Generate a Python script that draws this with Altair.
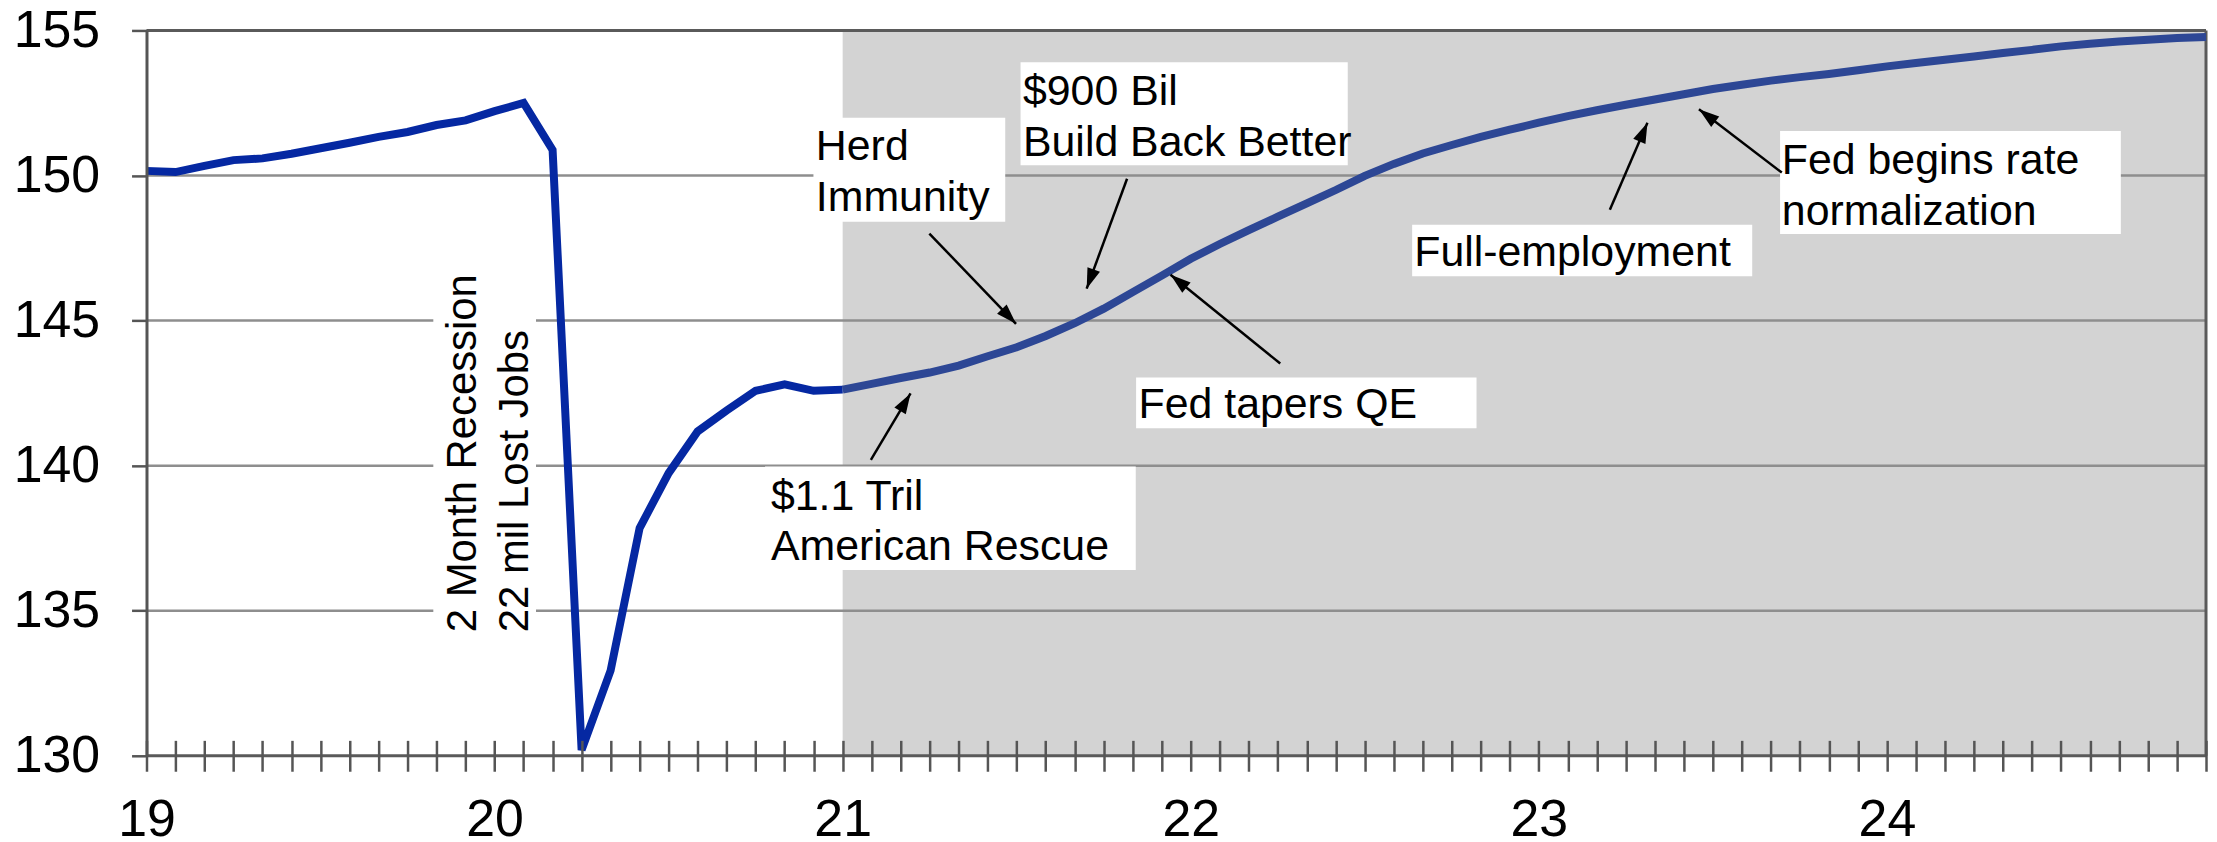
import math
import altair as alt
import pandas as pd

FONT = "Liberation Sans, Arial, sans-serif"

# ---------------- data ----------------
START_YEAR = 19
N_MONTHS = 72  # Jan 2019 .. Dec 2024

actual_vals = [150.16, 150.12, 150.33, 150.53, 150.59, 150.75, 150.94, 151.13, 151.33, 151.50, 151.74, 151.90,
               152.22, 152.50, 150.88, 130.20, 132.94, 137.85, 139.74, 141.18, 141.90, 142.58, 142.80, 142.58,
               142.62]
forecast_vals = [142.62, 142.82, 143.02, 143.21, 143.45, 143.77, 144.08, 144.47, 144.91, 145.41, 145.98, 146.55,
                 147.13, 147.64, 148.12, 148.58, 149.04, 149.50, 149.99, 150.40, 150.76, 151.05, 151.33, 151.58,
                 151.82, 152.05, 152.25, 152.44, 152.62, 152.80, 152.98, 153.13, 153.27, 153.39, 153.50, 153.63,
                 153.76, 153.88, 153.99, 154.10, 154.22, 154.33, 154.45, 154.54, 154.62, 154.68, 154.74, 154.77]

y_ticks = [130, 135, 140, 145, 150, 155]
forecast_start = 21

# annotation boxes (data units: year, index value)
box_x = [20.916, 21.511, 21.843, 20.777, 22.636, 23.693, 19.824]
box_x2 = [21.467, 22.451, 22.821, 21.842, 23.613, 24.672, 20.119]
box_y = [151.99, 153.90, 143.04, 139.97, 148.30, 151.53, 147.00]
box_y2 = [148.41, 150.35, 141.29, 136.40, 146.53, 147.98, 133.85]

# annotation texts
note_text = ["Herd\nImmunity", "$900 Bil\nBuild Back Better", "Fed tapers QE",
             "$1.1 Tril\nAmerican Rescue", "Full-employment", "Fed begins rate\nnormalization"]
note_x = [20.923, 21.518, 21.850, 20.794, 22.642, 23.698]
note_y = [151.70, 153.59, 142.81, 139.65, 148.04, 151.22]

rec_text = ["2 Month Recession\n22 mil Lost Jobs"]
rec_x = [19.853]
rec_y = [134.26]

# arrows: tail -> tip
arr_x = [21.081, 21.249, 21.817, 22.257, 23.204, 23.698]
arr_y = [140.20, 148.00, 149.89, 143.52, 148.82, 150.10]
arr_x2 = [21.195, 21.498, 21.701, 21.942, 23.312, 23.460]
arr_y2 = [142.49, 144.89, 146.10, 146.58, 151.82, 152.28]

# ---------------- layout ----------------
W, H = 2067, 728
x_min = START_YEAR
x_max = START_YEAR + (N_MONTHS - 1) / 12
PX_PER_YEAR = W / (x_max - x_min)
PX_PER_UNIT = H / (y_ticks[-1] - y_ticks[0])

month_vals = [START_YEAR + k / 12 for k in range(N_MONTHS)]

df_act = pd.DataFrame({"x": month_vals[:len(actual_vals)], "v": actual_vals})
df_fc = pd.DataFrame({"x": month_vals[len(actual_vals) - 1:], "v": forecast_vals})

xs = alt.Scale(domain=[x_min, x_max], nice=False, zero=False)
ys = alt.Scale(domain=[y_ticks[0], y_ticks[-1]], nice=False, zero=False)

x_axis = alt.Axis(values=month_vals,
                  labelExpr="datum.value == round(datum.value) ? format(datum.value, 'd') : ''",
                  tickSize=31, offset=-15.5, domain=False, grid=False,
                  tickColor="#555555", tickWidth=2.5,
                  labelFont=FONT, labelFontSize=52, labelColor="black", labelPadding=23,
                  labelFlush=False, labelOverlap=False, title=None, zindex=1)
y_axis = alt.Axis(values=y_ticks, tickSize=15, tickColor="#555555", tickWidth=2.5,
                  domainColor="#555555", domainWidth=3, grid=False,
                  labelFont=FONT, labelFontSize=52, labelColor="black", labelPadding=32,
                  labelFlush=False, title=None, zindex=1)


def X(f):
    return alt.X(f, type="quantitative", scale=xs, axis=x_axis)


def Y(f):
    return alt.Y(f, type="quantitative", scale=ys, axis=y_axis)


# shaded forecast region
shade = alt.Chart(pd.DataFrame({"x": [forecast_start], "x2": [x_max],
                                "y": [y_ticks[0]], "y2": [y_ticks[-1]]})).mark_rect(
    color="#d3d3d3").encode(x=X("x"), x2="x2", y=Y("y"), y2="y2")

# gridlines
grid_df = pd.DataFrame({"y": y_ticks[1:-1]})
grid = alt.Chart(grid_df).mark_rule(color="#8e8e8e", strokeWidth=2.5).encode(y=Y("y"))
frame_df = pd.DataFrame({"y": [y_ticks[0], y_ticks[-1]]})
frame = alt.Chart(frame_df).mark_rule(color="#5a5a5a", strokeWidth=3).encode(y=Y("y"))
right_df = pd.DataFrame({"x": [x_max]})
right = alt.Chart(right_df).mark_rule(color="#5a5a5a", strokeWidth=3).encode(x=X("x"))

# white boxes
box_df = pd.DataFrame({"x": box_x, "x2": box_x2, "y": box_y, "y2": box_y2})
boxes = alt.Chart(box_df).mark_rect(color="white").encode(x=X("x"), x2="x2", y=Y("y"), y2="y2")

# lines
line_act = alt.Chart(df_act).mark_line(color="#0528a2", strokeWidth=8, strokeJoin="miter",
                                       strokeMiterLimit=4).encode(x=X("x"), y=Y("v"))
line_fc = alt.Chart(df_fc).mark_line(color="#2d4795", strokeWidth=8).encode(x=X("x"), y=Y("v"))

# arrows
angles = []
for a, b, c, d in zip(arr_x, arr_y, arr_x2, arr_y2):
    dx = (c - a) * PX_PER_YEAR
    dy = -(d - b) * PX_PER_UNIT
    angles.append(math.degrees(math.atan2(dx, -dy)) % 360)
arr_df = pd.DataFrame({"x": arr_x, "y": arr_y, "x2": arr_x2, "y2": arr_y2, "ang": angles})
arrow_lines = alt.Chart(arr_df).mark_rule(color="black", strokeWidth=2.5).encode(
    x=X("x"), y=Y("y"), x2="x2", y2="y2")
arrow_heads = alt.Chart(arr_df).mark_point(shape="M0,0L0.65,2L-0.65,2Z", filled=True, size=420,
                                           color="black", opacity=1, strokeWidth=0).encode(
    x=X("x2"), y=Y("y2"), angle=alt.Angle("ang:Q", scale=None))

# texts
note_df = pd.DataFrame({"x": note_x, "y": note_y, "t": note_text})
notes = alt.Chart(note_df).mark_text(align="left", baseline="top", font=FONT, fontSize=43,
                                     lineHeight=51, lineBreak="\n", color="black").encode(
    x=X("x"), y=Y("y"), text="t:N")
rec_df = pd.DataFrame({"x": rec_x, "y": rec_y, "t": rec_text})
rec = alt.Chart(rec_df).mark_text(align="left", baseline="top", font=FONT, fontSize=42, angle=270,
                                  lineHeight=51.5, lineBreak="\n", color="black").encode(
    x=X("x"), y=Y("y"), text="t:N")

chart = alt.layer(shade, grid, frame, right, boxes, line_act, line_fc, arrow_lines, arrow_heads,
                  notes, rec).properties(
    width=W, height=H,
    autosize=alt.AutoSizeParams(type="none"),
    padding={"left": 139, "top": 21, "right": 3, "bottom": 85},
    background="white",
).configure_view(stroke=None)

chart.save("out.html", embed_options={"renderer": "svg", "actions": False})
